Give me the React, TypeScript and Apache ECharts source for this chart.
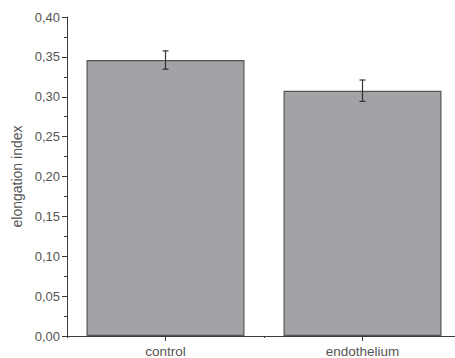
import React, { useEffect, useRef } from "react";
import * as echarts from "echarts";

const categories = ["control", "endothelium"];
const means = [0.346, 0.3076];
const errors = [0.0115, 0.0134];
const yTicks = [0, 0.05, 0.1, 0.15, 0.2, 0.25, 0.3, 0.35, 0.4];

const FONT = "'Liberation Sans', Arial, Helvetica, sans-serif";

export default function App() {
  const ref = useRef<HTMLDivElement>(null);
  useEffect(() => {
    if (!ref.current) return;
    const chart = echarts.init(ref.current, null, { renderer: "svg" });
    const errData = categories.map((c, i) => [i, means[i] - errors[i], means[i] + errors[i]]);
    chart.setOption({
      animation: false,
      backgroundColor: "#ffffff",
      grid: { left: 67, top: 17, width: 394, height: 319, containLabel: false },
      xAxis: [
        {
          type: "category",
          data: categories,
          position: "bottom",
          axisLine: { show: true, lineStyle: { color: "#3a3a3a", width: 1 } },
          axisTick: { show: true, alignWithLabel: true, length: 5, lineStyle: { color: "#3a3a3a" } },
          axisLabel: { color: "#555", fontSize: 13.5, fontFamily: FONT, margin: 8 },
          splitLine: { show: false },
        },
        {
          type: "value",
          position: "bottom",
          min: 0,
          max: 2,
          interval: 1,
          axisLine: { show: false },
          axisTick: { show: true, length: 2, lineStyle: { color: "#3a3a3a" } },
          axisLabel: { show: false },
          splitLine: { show: false },
        },
      ],
      yAxis: {
        type: "value",
        min: yTicks[0],
        max: yTicks[yTicks.length - 1],
        interval: 0.05,
        name: "elongation index",
        nameLocation: "middle",
        nameGap: 42,
        nameTextStyle: { color: "#555", fontSize: 14, fontFamily: FONT },
        axisLine: { show: true, lineStyle: { color: "#3a3a3a", width: 1 } },
        axisTick: { show: true, length: 5, lineStyle: { color: "#3a3a3a" } },
        minorTick: { show: true, splitNumber: 2, length: 3, lineStyle: { color: "#3a3a3a" } },
        axisLabel: {
          color: "#555",
          fontSize: 13,
          fontFamily: FONT,
          margin: 7,
          formatter: (v: number) => v.toFixed(2).replace(".", ","),
        },
        splitLine: { show: false },
      },
      series: [
        {
          type: "bar",
          data: means,
          barWidth: 158,
          itemStyle: { color: "#a3a3a7", borderColor: "#555", borderWidth: 1.2 },
        },
        {
          type: "custom",
          data: errData,
          renderItem: (params: any, api: any) => {
            const x = api.value(0);
            const lo = api.coord([x, api.value(1)]);
            const hi = api.coord([x, api.value(2)]);
            const hw = 3;
            const style = { stroke: "#333", lineWidth: 1.2 };
            return {
              type: "group",
              children: [
                { type: "line", shape: { x1: hi[0], y1: hi[1], x2: lo[0], y2: lo[1] }, style },
                { type: "line", shape: { x1: hi[0] - hw, y1: hi[1], x2: hi[0] + hw, y2: hi[1] }, style },
                { type: "line", shape: { x1: lo[0] - hw, y1: lo[1], x2: lo[0] + hw, y2: lo[1] }, style },
              ],
            };
          },
          z: 10,
        },
      ],
    });
    return () => chart.dispose();
  }, []);
  return (
    <div
      ref={ref}
      style={{ position: "fixed", left: 0, top: 0, width: 470, height: 358 }}
    />
  );
}
